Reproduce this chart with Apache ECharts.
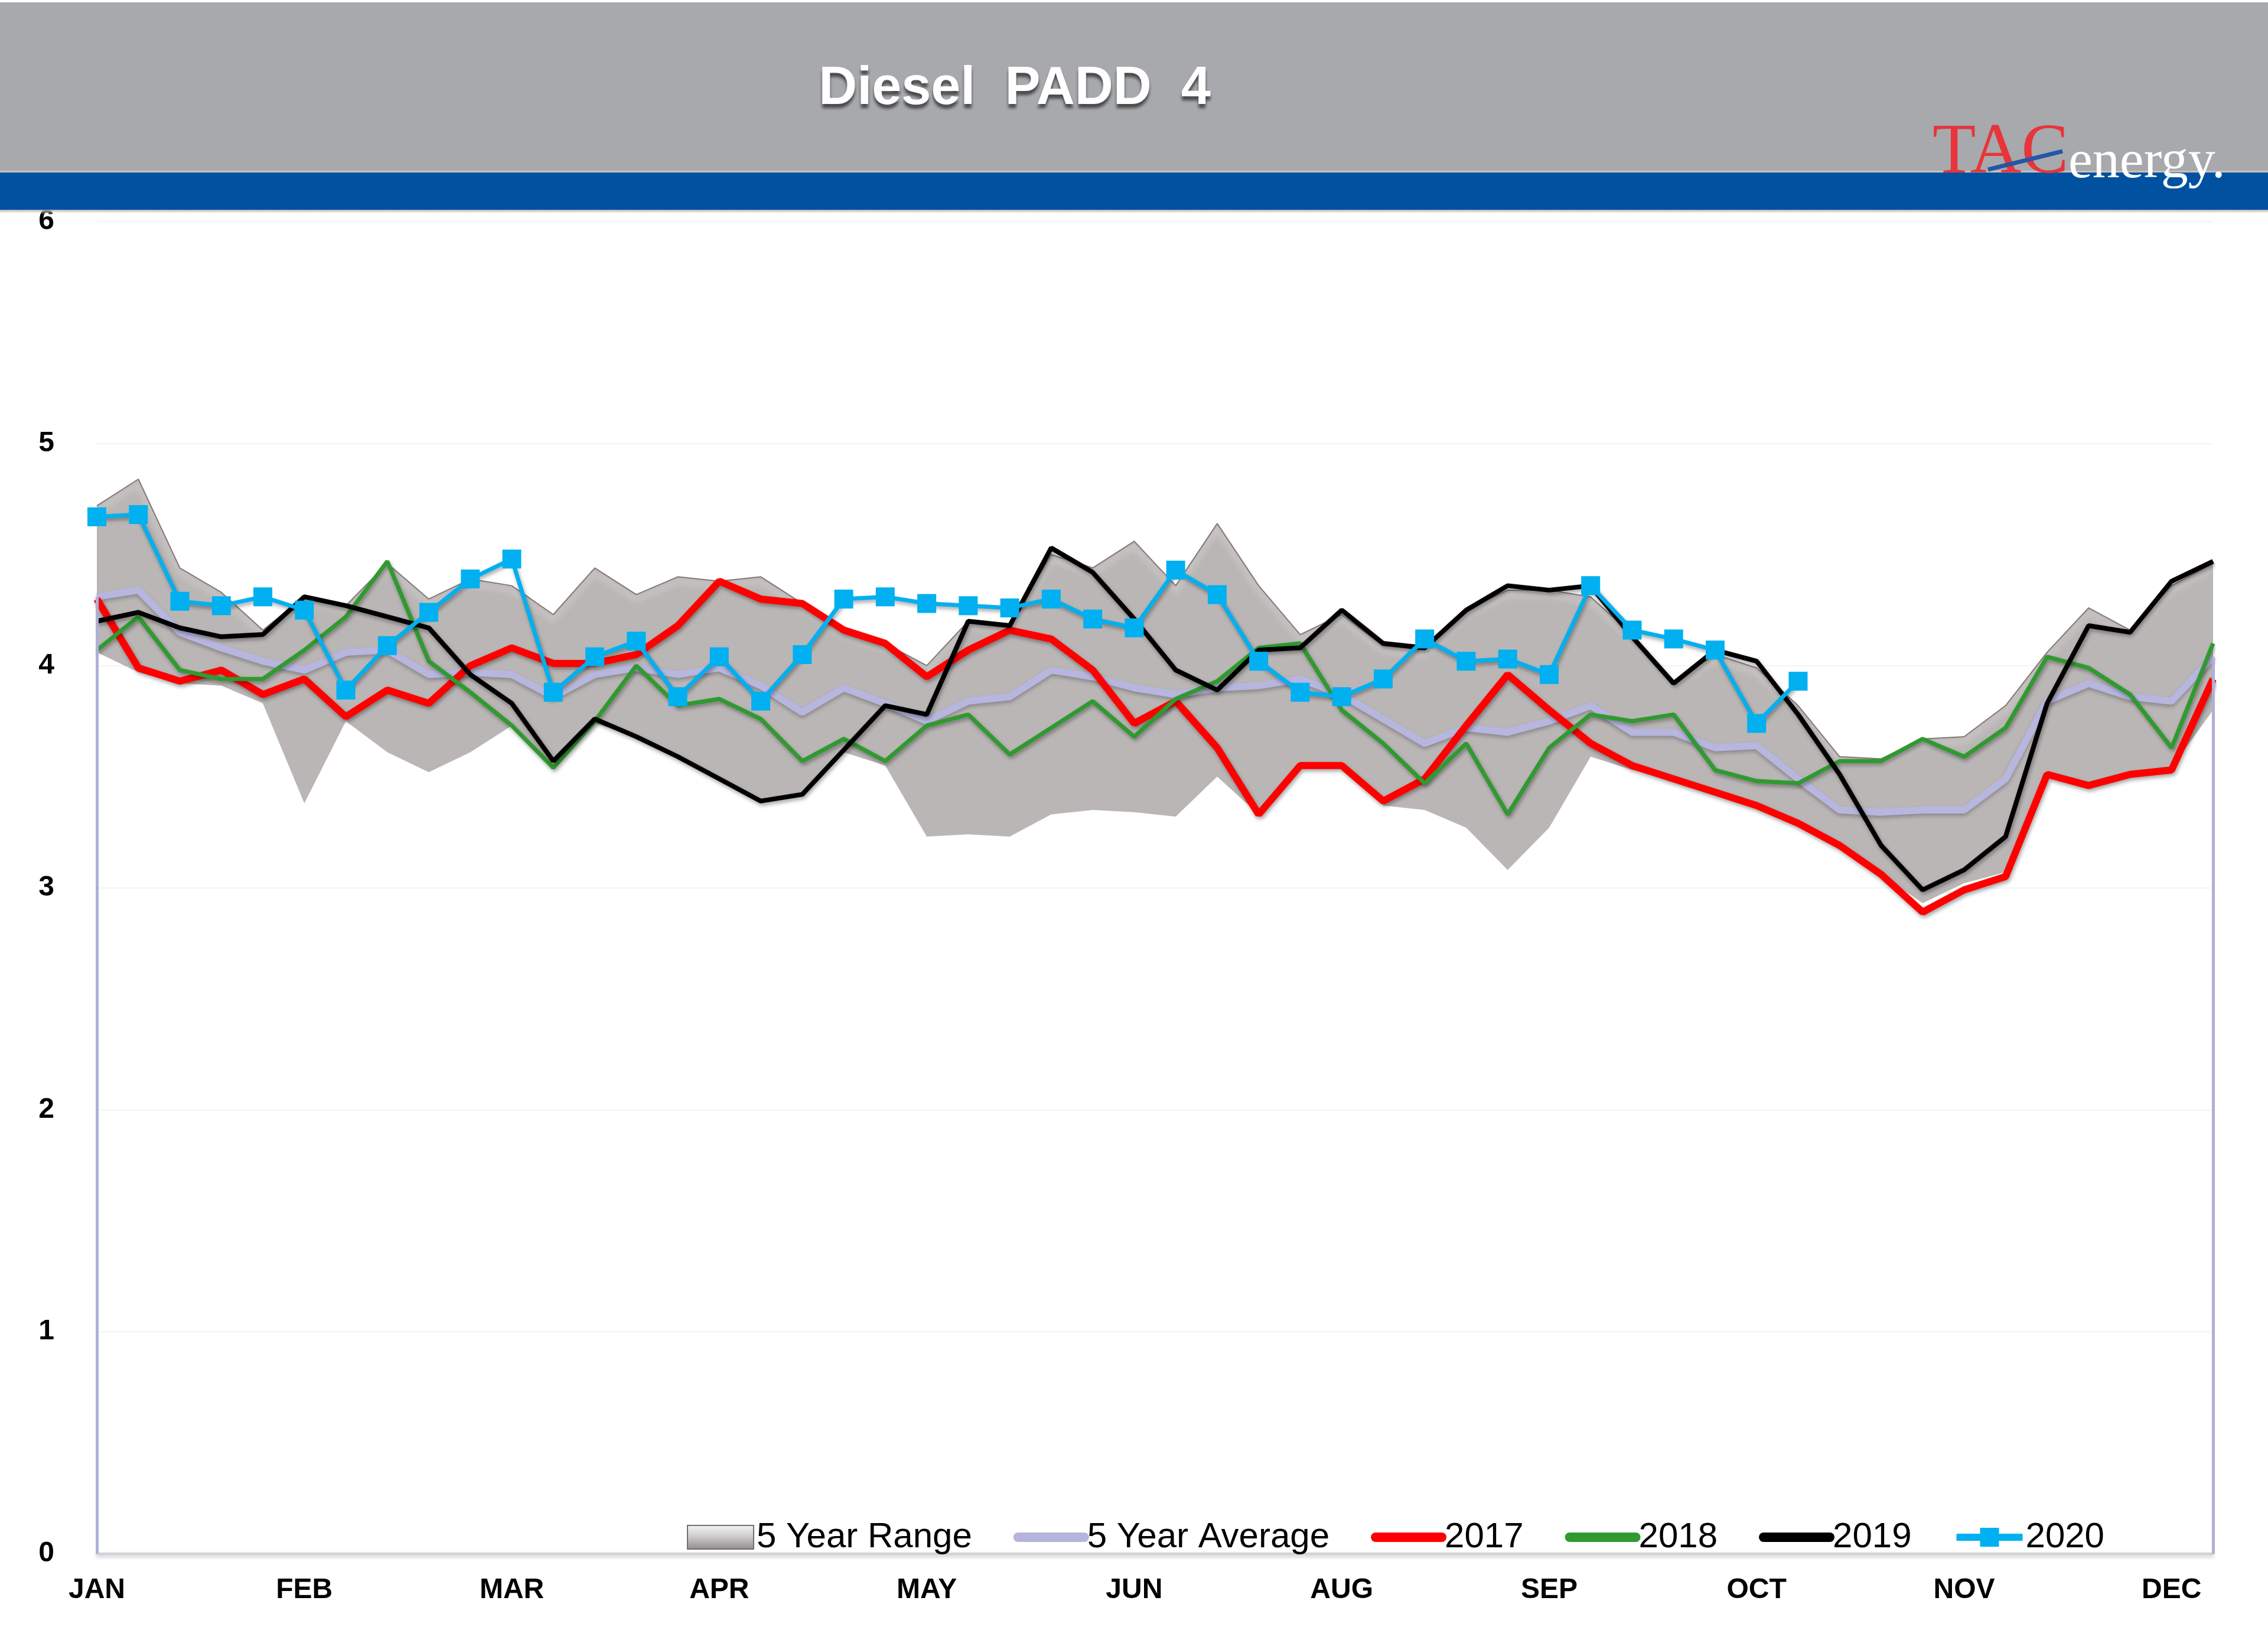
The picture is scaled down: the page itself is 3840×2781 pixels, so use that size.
<!DOCTYPE html>
<html>
<head>
<meta charset="utf-8">
<script src="https://cdn.jsdelivr.net/npm/echarts@6/dist/echarts.min.js"></script>
<style>
html,body{margin:0;padding:0;background:#fff;}
#chart{width:3840px;height:2781px;}
</style>
</head>
<body>
<div id="chart"></div>
<script>
// ---- data ----
const weeks = Array.from({length: 52}, (_, i) => 'W' + (i + 1));
const monthLabels = ['JAN','FEB','MAR','APR','MAY','JUN','AUG','SEP','OCT','NOV','DEC'];
const yTicks = [0, 1, 2, 3, 4, 5, 6];

const rangeTop = [4.72,4.84,4.44,4.33,4.16,4.31,4.27,4.46,4.30,4.39,4.36,4.23,4.44,4.32,4.40,4.38,4.40,4.28,4.16,4.10,
  4.00,4.20,4.18,4.50,4.44,4.56,4.36,4.64,4.36,4.14,4.23,4.09,4.07,4.25,4.34,4.34,4.31,4.14,3.93,4.05,
  3.99,3.82,3.59,3.58,3.67,3.68,3.82,4.06,4.26,4.16,4.36,4.46];
const rangeBottom = [4.06,3.97,3.92,3.91,3.83,3.38,3.75,3.61,3.52,3.61,3.73,3.54,3.74,3.68,3.59,3.49,3.39,3.42,3.61,3.55,
  3.23,3.24,3.23,3.33,3.35,3.34,3.32,3.50,3.33,3.55,3.55,3.37,3.35,3.27,3.08,3.27,3.59,3.53,3.49,3.43,
  3.37,3.29,3.19,3.06,2.93,3.02,3.07,3.51,3.47,3.52,3.54,3.80];
const avg5 = [4.31,4.34,4.15,4.08,4.02,3.98,4.06,4.07,3.96,3.97,3.96,3.86,3.96,3.99,3.96,3.99,3.91,3.79,3.90,3.83,
  3.75,3.84,3.86,3.98,3.95,3.90,3.87,3.90,3.91,3.94,3.87,3.76,3.65,3.72,3.70,3.75,3.82,3.70,3.70,3.63,
  3.64,3.49,3.35,3.34,3.35,3.35,3.49,3.84,3.92,3.86,3.84,4.04];
const y2017 = [4.30,3.99,3.93,3.98,3.87,3.94,3.77,3.89,3.83,4.00,4.08,4.01,4.01,4.05,4.18,4.38,4.30,4.28,4.16,4.10,
  3.95,4.07,4.16,4.12,3.98,3.74,3.84,3.63,3.33,3.55,3.55,3.39,3.49,3.73,3.96,3.80,3.65,3.55,3.49,3.43,
  3.37,3.29,3.19,3.06,2.89,2.99,3.05,3.51,3.46,3.51,3.53,3.94];
const y2018 = [4.07,4.22,3.98,3.94,3.94,4.07,4.22,4.47,4.02,3.88,3.73,3.54,3.75,4.00,3.82,3.85,3.76,3.57,3.67,3.57,
  3.73,3.78,3.60,3.72,3.84,3.68,3.85,3.93,4.08,4.10,3.80,3.65,3.47,3.65,3.33,3.63,3.78,3.75,3.78,3.53,
  3.48,3.47,3.57,3.57,3.67,3.59,3.72,4.04,3.99,3.87,3.63,4.10];
const y2019 = [4.20,4.24,4.17,4.13,4.14,4.31,4.27,4.22,4.17,3.96,3.83,3.57,3.76,3.68,3.59,3.49,3.39,3.42,3.62,3.82,
  3.78,4.20,4.18,4.53,4.42,4.21,3.98,3.89,4.07,4.08,4.25,4.10,4.08,4.25,4.36,4.34,4.36,4.13,3.92,4.07,
  4.02,3.78,3.51,3.19,2.99,3.08,3.23,3.83,4.18,4.15,4.38,4.47];
const y2020 = [4.67,4.68,4.29,4.27,4.31,4.25,3.89,4.09,4.24,4.39,4.48,3.88,4.04,4.11,3.86,4.04,3.84,4.05,4.30,4.31,
  4.28,4.27,4.26,4.30,4.21,4.17,4.43,4.32,4.02,3.88,3.86,3.94,4.12,4.02,4.03,3.96,4.36,4.16,4.12,4.07,
  3.74,3.93];

// ---- chart ----
const FONT = "'Liberation Sans', Arial, sans-serif";
const rangeSpan = rangeTop.map((v, i) => +(v - rangeBottom[i]).toFixed(3));
const lineShadow = {shadowColor: 'rgba(0,0,0,0.35)', shadowBlur: 6, shadowOffsetY: 4, shadowOffsetX: 2};
const hideSym = {opacity: 0};

const chart = echarts.init(document.getElementById('chart'), null, {renderer: 'canvas'});
chart.setOption({
  backgroundColor: '#ffffff',
  animation: false,
  grid: {left: 164, right: 93, top: 375, bottom: 151, containLabel: false},
  xAxis: {
    type: 'category',
    data: weeks,
    boundaryGap: false,
    axisTick: {show: false},
    axisLine: {show: true, lineStyle: {color: '#d2d2d8', width: 4, shadowColor: 'rgba(0,0,0,0.25)', shadowBlur: 6, shadowOffsetY: 3}},
    axisLabel: {
      interval: 4,
      margin: 38,
      fontFamily: FONT, fontSize: 48, fontWeight: 'bold', color: '#000',
      formatter: (v, idx) => monthLabels[idx / 5] || ''
    },
    splitLine: {show: false}
  },
  yAxis: {
    type: 'value',
    min: yTicks[0], max: yTicks[yTicks.length - 1], interval: 1,
    axisLine: {show: false},
    axisTick: {show: false},
    axisLabel: {margin: 72, fontFamily: FONT, fontSize: 48, fontWeight: 'bold', color: '#000',
      formatter: v => yTicks.includes(v) ? String(v) : ''},
    splitLine: {show: true, lineStyle: {color: '#f4f4f4', width: 2}}
  },
  legend: {
    left: 1158,
    top: 2567,
    itemWidth: 112,
    itemHeight: 40,
    itemGap: 70,
    textStyle: {fontFamily: FONT, fontSize: 60, color: '#000'},
    data: [
      {name: '5 Year Range', icon: 'rect', itemStyle: {color: new echarts.graphic.LinearGradient(0, 0, 0, 1, [
        {offset: 0, color: '#f6f6f6'}, {offset: 0.45, color: '#cfcdcd'}, {offset: 1, color: '#8e8b8b'}]),
        borderColor: '#6f6f6f', borderWidth: 2}},
      {name: '5 Year Average', itemStyle: hideSym, lineStyle: {width: 16, color: '#b4b4dc', cap: 'round'}},
      {name: '2017', itemStyle: hideSym, lineStyle: {width: 16, color: '#ff0000', cap: 'round'}},
      {name: '2018', itemStyle: hideSym, lineStyle: {width: 16, color: '#2f9a2f', cap: 'round'}},
      {name: '2019', itemStyle: hideSym, lineStyle: {width: 16, color: '#000000', cap: 'round'}},
      {name: '2020', lineStyle: {width: 12, color: '#00b0f0'}}
    ]
  },
  series: [
    {
      name: 'rangeBase', type: 'line', stack: 'range', data: rangeBottom,
      symbol: 'none', lineStyle: {opacity: 0}, silent: true, z: 1
    },
    {
      name: '5 Year Range', type: 'line', stack: 'range', data: rangeSpan,
      symbol: 'none', silent: true, z: 1,
      itemStyle: {color: '#bab6b5'},
      lineStyle: {color: '#857878', width: 2, shadowColor: 'rgba(255,255,255,0.95)', shadowBlur: 12, shadowOffsetY: 8},
      areaStyle: {color: '#bab6b5', opacity: 1}
    },
    {
      name: '5 Year Average', type: 'line', data: avg5, symbol: 'none', z: 2,
      itemStyle: {color: '#b4b4dc'},
      lineStyle: {color: '#b6b6de', width: 12, shadowColor: 'rgba(0,0,0,0.25)', shadowBlur: 6, shadowOffsetY: 4},
      markLine: {
        symbol: 'none', silent: true, label: {show: false},
        lineStyle: {color: '#aeb0d6', width: 5, type: 'solid'},
        data: [
          [{coord: [weeks[0], 0]}, {coord: [weeks[0], avg5[0]]}],
          [{coord: [weeks[51], 0]}, {coord: [weeks[51], avg5[51]]}]
        ]
      }
    },
    {
      name: '2017', type: 'line', data: y2017, symbol: 'none', z: 3,
      itemStyle: {color: '#ff0000'},
      lineStyle: Object.assign({color: '#ff0000', width: 12}, lineShadow)
    },
    {
      name: '2018', type: 'line', data: y2018, symbol: 'none', z: 3,
      itemStyle: {color: '#2f9a2f'},
      lineStyle: Object.assign({color: '#2f9a2f', width: 7}, lineShadow)
    },
    {
      name: '2019', type: 'line', data: y2019, symbol: 'none', z: 3,
      itemStyle: {color: '#000000'},
      lineStyle: Object.assign({color: '#000000', width: 8}, lineShadow)
    },
    {
      name: '2020', type: 'line', data: y2020, symbol: 'rect', symbolSize: 32, z: 4,
      itemStyle: {color: '#00b0f0'},
      lineStyle: Object.assign({color: '#00b0f0', width: 7}, lineShadow)
    }
  ],
  graphic: [
    {type: 'rect', z: 100, shape: {x: 0, y: 4, width: 3840, height: 287}, style: {fill: '#a7a9ac'}, silent: true},
    {type: 'rect', z: 100, shape: {x: 0, y: 289, width: 3840, height: 3}, style: {fill: '#c9bfbf'}, silent: true},
    {type: 'rect', z: 100, shape: {x: 0, y: 292, width: 3840, height: 63}, style: {fill: '#0052a0'}, silent: true},
    {type: 'rect', z: 100, shape: {x: 0, y: 355, width: 3840, height: 8}, style: {fill: new echarts.graphic.LinearGradient(0, 0, 0, 1, [
      {offset: 0, color: '#a9a9a9'}, {offset: 1, color: 'rgba(255,255,255,0)'}])}, silent: true},
    {type: 'text', z: 101, x: 1718, y: 151, silent: true,
      style: {text: 'Diesel  PADD  4', fill: '#ffffff', font: "bold 90px 'Liberation Sans', Arial, sans-serif",
        align: 'center', verticalAlign: 'middle', textShadowColor: 'rgba(40,40,40,0.75)', textShadowBlur: 5, textShadowOffsetY: 7}},
    {type: 'text', z: 101, x: 3272, y: 320, silent: true,
      style: {text: 'TAC', fill: '#e8343a', font: "120px 'Liberation Serif', 'Times New Roman', serif", align: 'left', verticalAlign: 'bottom'}},
    {type: 'line', z: 102, silent: true, shape: {x1: 3366, y1: 287, x2: 3492, y2: 256}, style: {stroke: '#2457a6', lineWidth: 7}},
    {type: 'text', z: 101, x: 3502, y: 322, silent: true,
      style: {text: 'energy.', fill: '#ffffff', font: "92px 'Liberation Serif', 'Times New Roman', serif", align: 'left', verticalAlign: 'bottom'}}
  ]
});
</script>
</body>
</html>
